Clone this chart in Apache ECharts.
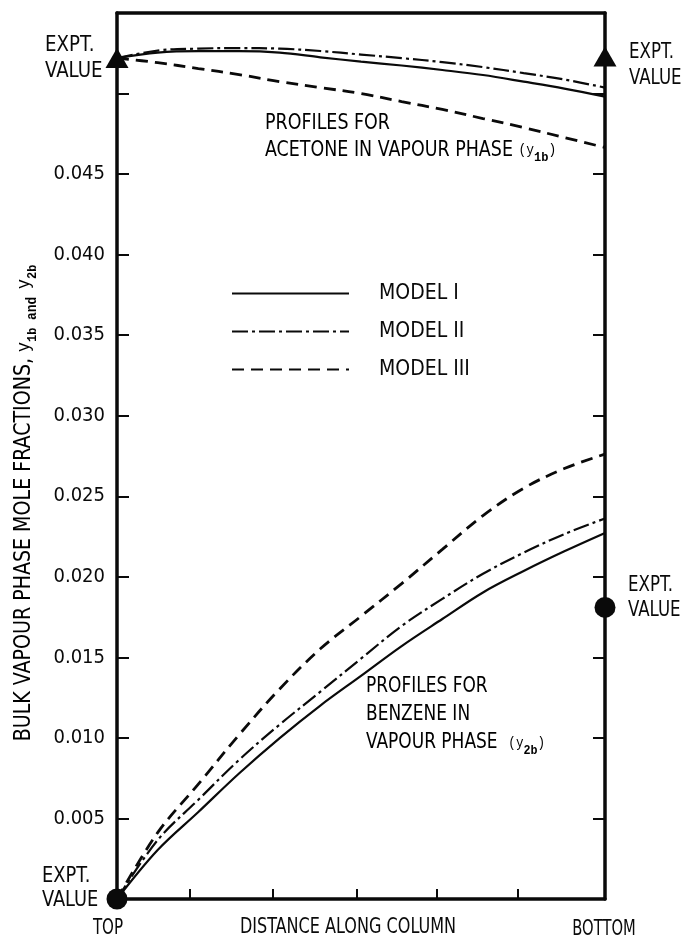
<!DOCTYPE html>
<html>
<head>
<meta charset="utf-8">
<script src="https://cdn.jsdelivr.net/npm/echarts@6/dist/echarts.min.js"></script>
<style>html,body{margin:0;padding:0;background:#fff}#chart{width:681px;height:939px}</style>
</head>
<body>
<div id="chart"></div>
<script>
// ---- data ----
const distance = [0, 0.5, 1, 1.5, 2, 2.5, 3, 3.5, 4, 4.5, 5, 5.5, 6];
const acetoneModelI   = [0.0522, 0.05254, 0.05263, 0.05263, 0.05254, 0.05225, 0.05198, 0.05174, 0.05146, 0.05115, 0.05074, 0.05031, 0.04981];
const acetoneModelII  = [0.0522, 0.05267, 0.05279, 0.05282, 0.05279, 0.05264, 0.05242, 0.0522, 0.05195, 0.05164, 0.05127, 0.05087, 0.05037];
const acetoneModelIII = [0.0522, 0.05192, 0.05155, 0.05118, 0.05074, 0.05037, 0.05, 0.0495, 0.04901, 0.04845, 0.04789, 0.04727, 0.04665];
const benzeneModelI   = [0, 0.00304, 0.0054, 0.00779, 0.00999, 0.01201, 0.01385, 0.0157, 0.01738, 0.01903, 0.02036, 0.02158, 0.02272];
const benzeneModelII  = [0, 0.00366, 0.00616, 0.00863, 0.01083, 0.01287, 0.01492, 0.01695, 0.01863, 0.02019, 0.0215, 0.02265, 0.02362];
const benzeneModelIII = [0, 0.00412, 0.00713, 0.01019, 0.01304, 0.01553, 0.01755, 0.01958, 0.0217, 0.0238, 0.0255, 0.02672, 0.02762];
const exptAcetone = [[0, 0.0522], [6, 0.0523]];
const exptBenzene = [[0, 0], [6, 0.0181]];
const yTickLabels = ['0.005', '0.010', '0.015', '0.020', '0.025', '0.030', '0.035', '0.040', '0.045'];
const xTickPositions = [0.9, 1.92, 2.95, 3.93, 4.93];
const xEndLabels = ['TOP', 'BOTTOM'];
const xAxisTitle = 'DISTANCE ALONG COLUMN';
const modelNames = ['MODEL I', 'MODEL II', 'MODEL III'];

// ---- styling ----
const NARROW = "'Liberation Sans Narrow', 'DejaVu Sans Condensed', 'Roboto Condensed', sans-serif";
const MONO = "'Liberation Mono', 'DejaVu Sans Mono', monospace";
const INK = '#0a0a0a';
const lineLook = {
  'MODEL I':   { width: 2.2, type: 'solid' },
  'MODEL II':  { width: 2.2, type: [16, 4, 3, 4] },
  'MODEL III': { width: 2.8, type: [12, 7] }
};

function pairs(vals) { return distance.map((x, i) => [x, vals[i]]); }
function lineSeries(name, vals) {
  return {
    type: 'line', name: name, data: pairs(vals), smooth: 0.35,
    symbol: 'none', showSymbol: false, clip: false,
    lineStyle: { color: INK, width: lineLook[name].width, type: lineLook[name].type },
    itemStyle: { color: INK }, z: 3, animation: false
  };
}

const chart = echarts.init(document.getElementById('chart'), null, { renderer: 'canvas' });

const subRich = {
  m: { fontFamily: MONO, fontSize: 14, color: INK },
  s: { fontFamily: MONO, fontSize: 13, fontWeight: 'bold', color: INK, verticalAlign: 'bottom', lineHeight: 14 }
};
function plainText(x, y, text, size, lh, sx, align) {
  return { type: 'text', x: x, y: y, scaleX: sx, z: 10,
    style: { text: text, fontFamily: NARROW, fontSize: size, lineHeight: lh, fill: INK,
             align: align || 'left', verticalAlign: 'middle' } };
}

const option = {
  backgroundColor: '#ffffff',
  animation: false,
  grid: { left: 117, right: 76, top: 13, bottom: 40 },
  legend: {
    data: modelNames, orient: 'vertical', left: 231, top: 283, padding: 0,
    itemWidth: 117, itemHeight: 14, itemGap: 17, selectedMode: false,
    itemStyle: { color: 'rgba(0,0,0,0)', borderColor: 'rgba(0,0,0,0)', borderWidth: 0, opacity: 0 },
    textStyle: { fontFamily: NARROW, fontSize: 21, color: INK, padding: [0, 0, 0, 25] }
  },
  xAxis: [
    {
      type: 'value', min: 0, max: 6, interval: 1, position: 'bottom',
      axisLine: { show: true, onZero: false, lineStyle: { color: INK, width: 3.5 } },
      axisTick: { show: true, inside: true, length: 10, customValues: xTickPositions, lineStyle: { color: INK, width: 2 } },
      axisLabel: { show: false },
      splitLine: { show: false }
    },
    {
      type: 'value', min: 0, max: 6, interval: 1, position: 'top',
      axisLine: { show: true, onZero: false, lineStyle: { color: INK, width: 3.5 } },
      axisTick: { show: false }, axisLabel: { show: false }, splitLine: { show: false }
    }
  ],
  yAxis: [
    {
      type: 'value', min: 0, max: 0.055, interval: 0.005, position: 'left',
      axisLine: { show: true, onZero: false, lineStyle: { color: INK, width: 3.5 } },
      axisTick: { show: true, inside: true, length: 12, lineStyle: { color: INK, width: 2 } },
      axisLabel: {
        margin: 12, fontFamily: NARROW, fontSize: 20, color: INK,
        formatter: v => { const k = Math.round(v / 0.005); return (k >= 1 && k <= yTickLabels.length) ? yTickLabels[k - 1] : ''; }
      },
      splitLine: { show: false }
    },
    {
      type: 'value', min: 0, max: 0.055, interval: 0.005, position: 'right',
      axisLine: { show: true, onZero: false, lineStyle: { color: INK, width: 3.5 } },
      axisTick: { show: true, inside: true, length: 12, lineStyle: { color: INK, width: 2 } },
      axisLabel: { show: false }, splitLine: { show: false }
    }
  ],
  series: [
    lineSeries('MODEL I', acetoneModelI),
    lineSeries('MODEL II', acetoneModelII),
    lineSeries('MODEL III', acetoneModelIII),
    lineSeries('MODEL I', benzeneModelI),
    lineSeries('MODEL II', benzeneModelII),
    lineSeries('MODEL III', benzeneModelIII),
    { type: 'scatter', name: 'EXPT. acetone', data: exptAcetone, symbol: 'triangle', symbolSize: [23, 20],
      itemStyle: { color: INK, opacity: 1 }, clip: false, z: 5 },
    { type: 'scatter', name: 'EXPT. benzene', data: exptBenzene, symbol: 'circle', symbolSize: 21,
      itemStyle: { color: INK, opacity: 1 }, clip: false, z: 5 }
  ],
  graphic: [
    plainText(45, 58.5, 'EXPT.\nVALUE', 22, 25.5, 0.92),
    plainText(629, 65, 'EXPT.\nVALUE', 22, 26, 0.84),
    plainText(628, 597.5, 'EXPT.\nVALUE', 22, 25, 0.84),
    plainText(42, 888.5, 'EXPT.\nVALUE', 22, 24, 0.9),
    plainText(108, 929, xEndLabels[0], 21, 24, 0.8, 'center'),
    plainText(604, 929.5, xEndLabels[1], 21, 24, 0.78, 'center'),
    plainText(348, 928, xAxisTitle, 21, 24, 0.85, 'center'),
    { type: 'text', x: 265, y: 137, scaleX: 0.925, z: 10, style: {
        text: '{n|PROFILES FOR}\n{n|ACETONE IN VAPOUR PHASE }{m|(y}{s|1b}{m|)}',
        rich: { n: { fontFamily: NARROW, fontSize: 21, color: INK, lineHeight: 27 }, m: subRich.m, s: subRich.s },
        align: 'left', verticalAlign: 'middle' } },
    { type: 'text', x: 366, y: 715, scaleX: 0.9, z: 10, style: {
        text: '{n|PROFILES FOR}\n{n|BENZENE IN}\n{n|VAPOUR PHASE  }{m|(y}{s|2b}{m|)}',
        rich: { n: { fontFamily: NARROW, fontSize: 21, color: INK, lineHeight: 28 }, m: subRich.m, s: subRich.s },
        align: 'left', verticalAlign: 'middle' } },
    { type: 'text', x: 24, y: 503, rotation: Math.PI / 2, scaleX: 0.92, z: 10, style: {
        text: '{n|BULK VAPOUR PHASE MOLE FRACTIONS, }{y|y}{s|1b}{a| and }{y|y}{s|2b}',
        rich: {
          n: { fontFamily: NARROW, fontSize: 23, color: INK, lineHeight: 30 },
          y: { fontFamily: MONO, fontSize: 18, color: INK },
          s: { fontFamily: MONO, fontSize: 13, fontWeight: 'bold', color: INK, verticalAlign: 'bottom', lineHeight: 14 },
          a: { fontFamily: MONO, fontSize: 14, fontWeight: 'bold', color: INK, verticalAlign: 'bottom', lineHeight: 25 }
        }, align: 'center', verticalAlign: 'middle' } }
  ]
};
chart.setOption(option);
</script>
</body>
</html>
